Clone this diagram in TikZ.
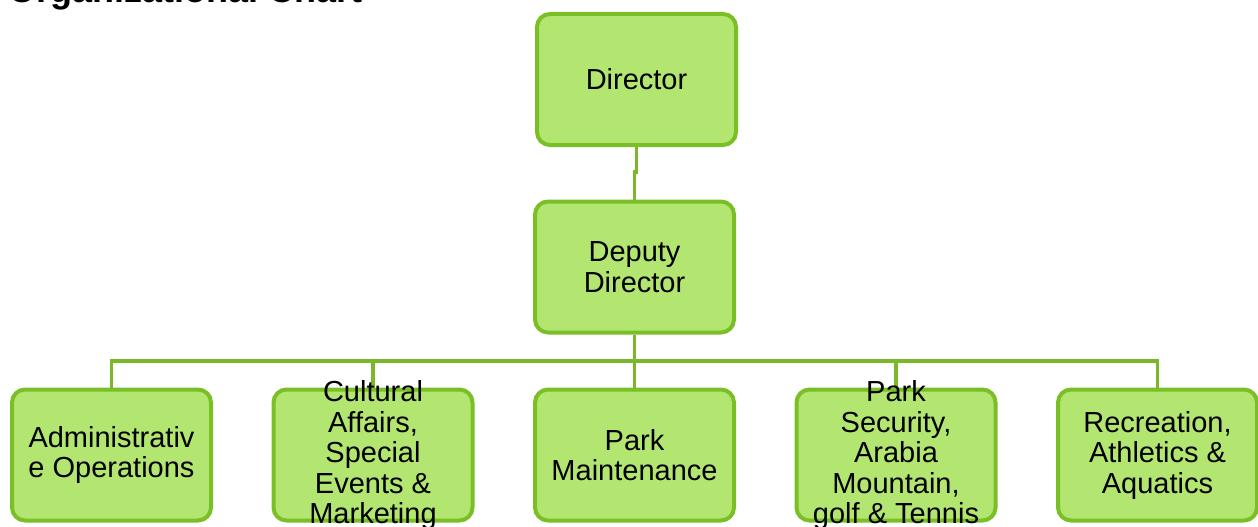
\documentclass[tikz,border=0pt]{standalone}
\usepackage{xcolor}
\usepackage{tikz}
\usepackage{fontspec}
\setmainfont{Liberation Sans}
\usetikzlibrary{
  positioning,
  calc
}
\definecolor{orgFill}{HTML}{B3E670}
\definecolor{orgEdge}{HTML}{7ABF25}
\definecolor{orgLine}{HTML}{7AB82A}
\tikzset{
  orgbox/.style={
    draw=orgEdge, fill=orgFill, line width=4pt, rounded corners=13pt,
    minimum width=199pt, minimum height=131pt, inner sep=0pt
  },
  orgtext/.style={
    align=center, inner sep=0pt, font=\fontsize{29pt}{30.5pt}\selectfont
  },
  orgline/.style={line width=3.5pt, orgLine},
  title/.style={font=\fontsize{36pt}{40pt}\selectfont\bfseries, anchor=base west, inner sep=0pt}
}

\begin{document}
\begin{tikzpicture}[x=1pt, y=-1pt, node distance=58.5pt]
  \useasboundingbox (0,0) rectangle (1258,527);
  \node[title] (ttl) at (8,3) {Organizational Chart};
  % top of the chart
  \node[orgbox] (dir) at (636.5,79.5) {};
  \node[orgbox] (dep) at (634.5,267) {};
  % bottom row
  \node[orgbox] (adm) at (111.5,455) {};
  \node[orgbox, right=of adm] (cul) {};
  \node[orgbox, right=of cul] (mnt) {};
  \node[orgbox, right=of mnt] (sec) {};
  \node[orgbox, right=of sec] (rec) {};
  \coordinate (bus) at (634.5,361);
  \draw[orgline] (dir.south) -- ++(0,25) -| (dep.north);
  \draw[orgline] (dep.south) -- (dep.south |- bus);
  \draw[orgline] (adm.north) |- (rec.north |- bus) -- (rec.north);
  \foreach \n in {cul, mnt, sec}
    \draw[orgline] (\n.north) -- (\n.north |- bus);
  % texts
  \node[orgtext] (dirt) at (dir) {Director};
  \node[orgtext] (dept) at (dep) {Deputy\\Director};
  \node[orgtext] (admt) at (adm) {Administrativ\\e Operations};
  \node[orgtext] (cult) at (cul) {Cultural\\Affairs,\\Special\\Events \&\\Marketing};
  \node[orgtext] (mntt) at (mnt) {Park\\Maintenance};
  \node[orgtext] (sect) at (sec) {Park\\Security,\\Arabia\\Mountain,\\golf \& Tennis};
  \node[orgtext] (rect) at (rec) {Recreation,\\Athletics \&\\Aquatics};
\end{tikzpicture}
\end{document}
